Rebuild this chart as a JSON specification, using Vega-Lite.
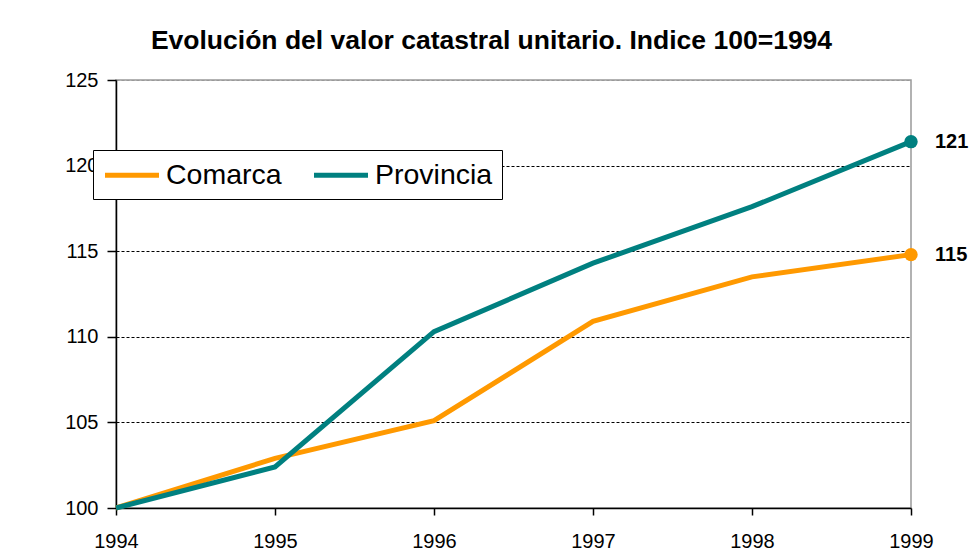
{
  "$schema": "https://vega.github.io/schema/vega-lite/v6.json",
  "width": 795,
  "height": 428,
  "autosize": {"type": "none"},
  "padding": {"left": 116, "top": 80, "right": 60, "bottom": 45},
  "background": "white",
  "title": {
    "text": "Evolución del valor catastral unitario. Indice 100=1994",
    "font": "Liberation Sans",
    "fontSize": 26.5,
    "fontWeight": "bold",
    "color": "black",
    "anchor": "middle",
    "dx": -22,
    "offset": 16
  },
  "config": {
    "font": "Liberation Sans",
    "view": {"stroke": "#999999", "strokeWidth": 1.5}
  },
  "data": {
    "values": [
      {"year": 1994, "serie": "Comarca", "valor": 100},
      {"year": 1995, "serie": "Comarca", "valor": 102.9},
      {"year": 1996, "serie": "Comarca", "valor": 105.1},
      {"year": 1997, "serie": "Comarca", "valor": 110.9},
      {"year": 1998, "serie": "Comarca", "valor": 113.5},
      {"year": 1999, "serie": "Comarca", "valor": 114.8},
      {"year": 1994, "serie": "Provincia", "valor": 100},
      {"year": 1995, "serie": "Provincia", "valor": 102.4},
      {"year": 1996, "serie": "Provincia", "valor": 110.3},
      {"year": 1997, "serie": "Provincia", "valor": 114.3},
      {"year": 1998, "serie": "Provincia", "valor": 117.6},
      {"year": 1999, "serie": "Provincia", "valor": 121.4}
    ]
  },
  "encoding": {
    "x": {
      "field": "year",
      "type": "quantitative",
      "scale": {"domain": [1994, 1999], "nice": false, "zero": false},
      "axis": {
        "title": null,
        "values": [1994, 1995, 1996, 1997, 1998, 1999],
        "format": "d",
        "grid": false,
        "domainColor": "black",
        "domainWidth": 1.5,
        "tickColor": "black",
        "tickSize": 7,
        "tickWidth": 1.5,
        "labelFontSize": 20,
        "labelColor": "black",
        "labelPadding": 16,
        "labelFlush": false
      }
    },
    "y": {
      "field": "valor",
      "type": "quantitative",
      "scale": {"domain": [100, 125], "nice": false, "zero": false},
      "axis": {
        "title": null,
        "values": [100, 105, 110, 115, 120, 125],
        "grid": true,
        "gridColor": {"condition": {"test": "datum.value == 125", "value": "#999999"}, "value": "black"},
        "gridDash": [3, 2],
        "gridWidth": 1,
        "domainColor": "black",
        "domainWidth": 1.5,
        "tickColor": "black",
        "tickSize": 9,
        "tickWidth": 1.5,
        "labelFontSize": 20,
        "labelColor": "black",
        "labelPadding": 9
      }
    },
    "color": {
      "field": "serie",
      "type": "nominal",
      "scale": {"domain": ["Comarca", "Provincia"], "range": ["#FF9900", "#008080"]},
      "legend": {
        "title": null,
        "orient": "none",
        "legendX": -23,
        "legendY": 70,
        "direction": "horizontal",
        "symbolType": "M-2,0H2",
        "symbolStrokeWidth": 5,
        "symbolSize": 729,
        "symbolOffset": 14,
        "labelFontSize": 28.5,
        "labelColor": "black",
        "labelOffset": 18,
        "columnPadding": 22,
        "padding": 9,
        "strokeColor": "black",
        "fillColor": "white"
      }
    }
  },
  "layer": [
    {
      "mark": {"type": "line", "strokeWidth": 5, "clip": false}
    },
    {
      "transform": [{"filter": "datum.year == 1999"}],
      "mark": {"type": "point", "filled": true, "size": 180, "opacity": 1, "clip": false}
    },
    {
      "transform": [{"filter": "datum.year == 1999"}],
      "mark": {"type": "text", "align": "left", "baseline": "middle", "dx": 24, "fontSize": 20, "fontWeight": "bold", "color": "black"},
      "encoding": {
        "text": {"field": "valor", "type": "quantitative", "format": ".0f"},
        "color": {"value": "black"}
      }
    }
  ]
}
